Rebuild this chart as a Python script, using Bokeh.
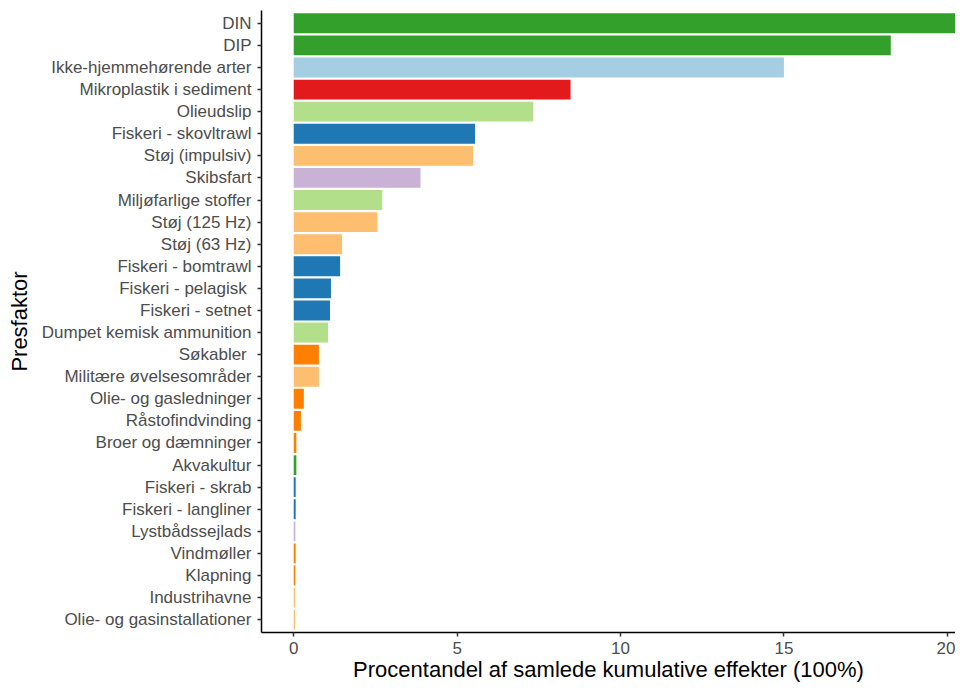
from bokeh.plotting import figure
from bokeh.models import ColumnDataSource, FactorRange, Range1d, FixedTicker
from bokeh.embed import file_html
from bokeh.resources import INLINE

categories = [
    "DIN", "DIP", "Ikke-hjemmehørende arter", "Mikroplastik i sediment", "Olieudslip",
    "Fiskeri - skovltrawl", "Støj (impulsiv)", "Skibsfart", "Miljøfarlige stoffer",
    "Støj (125 Hz)", "Støj (63 Hz)", "Fiskeri - bomtrawl", "Fiskeri - pelagisk ",
    "Fiskeri - setnet", "Dumpet kemisk ammunition", "Søkabler ", "Militære øvelsesområder",
    "Olie- og gasledninger", "Råstofindvinding", "Broer og dæmninger", "Akvakultur",
    "Fiskeri - skrab", "Fiskeri - langliner", "Lystbådssejlads", "Vindmøller",
    "Klapning", "Industrihavne", "Olie- og gasinstallationer",
]
values = [
    21.2, 18.27, 15.0, 8.47, 7.33,
    5.55, 5.49, 3.88, 2.71,
    2.56, 1.48, 1.42, 1.14,
    1.11, 1.05, 0.77, 0.77,
    0.31, 0.22, 0.08, 0.08,
    0.06, 0.06, 0.05, 0.06,
    0.05, 0.04, 0.04,
]
colors = [
    "#33a02c", "#33a02c", "#a6cee3", "#e31a1c", "#b2df8a",
    "#1f78b4", "#fdbf6f", "#cab2d6", "#b2df8a",
    "#fdbf6f", "#fdbf6f", "#1f78b4", "#1f78b4",
    "#1f78b4", "#b2df8a", "#ff7f00", "#fdbf6f",
    "#ff7f00", "#ff7f00", "#ff7f00", "#33a02c",
    "#1f78b4", "#1f78b4", "#cab2d6", "#ff7f00",
    "#ff7f00", "#fdbf6f", "#fdbf6f",
]
x_ticks = [0, 5, 10, 15, 20]

src = ColumnDataSource(dict(cat=categories, val=values, col=colors))

p = figure(
    width=955, height=685,
    y_range=FactorRange(factors=categories[::-1], range_padding=0.08,
                        range_padding_units="absolute"),
    x_range=Range1d(-0.986, 20.25),
    output_backend="svg", toolbar_location=None,
    min_border_left=261, min_border_right=0, min_border_top=10, min_border_bottom=53,
)
p.hbar(y="cat", right="val", left=0, height=0.9, fill_color="col", line_color=None, source=src)

p.xgrid.visible = False
p.ygrid.visible = False
p.outline_line_color = None
p.background_fill_color = "white"

for ax in (p.xaxis[0], p.yaxis[0]):
    ax.axis_line_color = "black"
    ax.axis_line_width = 1.5
    ax.major_tick_line_color = "#333333"
    ax.major_tick_line_width = 1.5
    ax.major_tick_out = 4
    ax.major_tick_in = 0
    ax.minor_tick_line_color = None
    ax.major_label_text_color = "#4d4d4d"
    ax.major_label_text_font = "Liberation Sans"
    ax.major_label_text_font_size = "17px"
    ax.axis_label_text_font = "Liberation Sans"
    ax.axis_label_text_font_style = "normal"
    ax.axis_label_text_color = "black"
    ax.axis_label_text_font_size = "22px"

p.xaxis[0].ticker = FixedTicker(ticks=x_ticks)
p.xaxis[0].axis_label = "Procentandel af samlede kumulative effekter (100%)"
p.xaxis[0].major_label_standoff = 5
p.xaxis[0].axis_label_standoff = 0
p.yaxis[0].axis_label = "Presfaktor"
p.yaxis[0].major_label_standoff = 6
p.yaxis[0].axis_label_standoff = 7

open("out.html", "w").write(file_html(p, INLINE))
